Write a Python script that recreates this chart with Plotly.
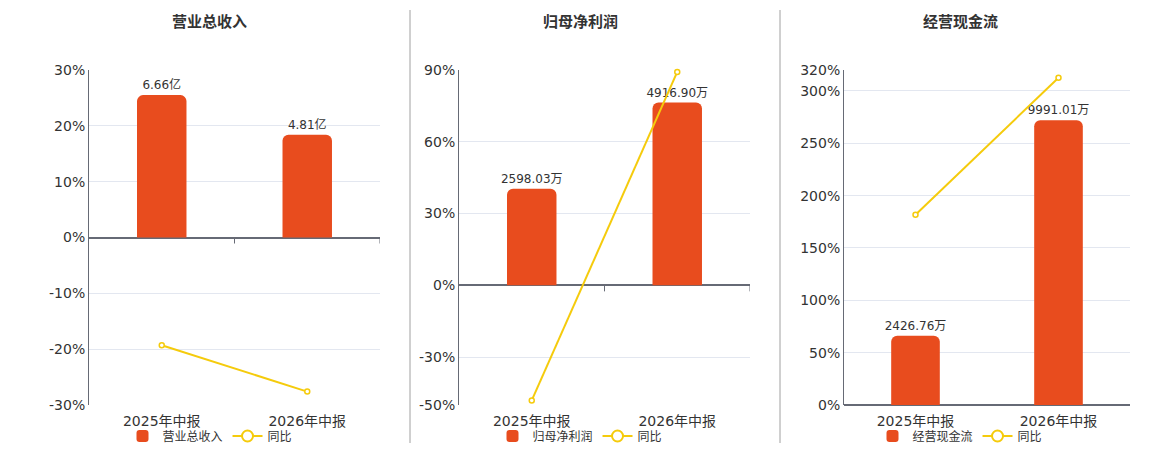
import plotly.graph_objects as go

W, H = 1160, 450
OFF = 8  # page body margin

periods = ["2025年中报", "2026年中报"]

titles = ["营业总收入", "归母净利润", "经营现金流"]
bar_values = [[6.66, 4.81], [2598.03, 4916.90], [2426.76, 9991.01]]
bar_labels = [["6.66亿", "4.81亿"], ["2598.03万", "4916.90万"], ["2426.76万", "9991.01万"]]
yoy = [[-19.3, -27.6], [-48.1, 89.2], [181.8, 312.6]]

pct_ranges = [[-30, 30], [-50, 90], [0, 320]]
pct_ticks = [[-30, -20, -10, 0, 10, 20, 30],
             [-50, -30, 0, 30, 60, 90],
             [0, 50, 100, 150, 200, 250, 300, 320]]
bar_top = [7.835, 5792, 11754]  # hidden bar axis max, zero aligned with 0%

# pixel layout of the three plot areas (screen coords)
x_px = [(89, 380), (459, 750), (844, 1130)]
y_px = (70, 405)
centers = [210, 580, 960]

BAR = "#E84C1E"
LINE = "#F5CB0C"
TXT = "#333333"
FONT = "DejaVu Sans, Noto Sans CJK SC"


def px(v):
    return (v - OFF) / W


def py(v):
    return 1 - (v - OFF) / H


fig = go.Figure()
shapes = []
annotations = []

for i in range(3):
    n = i + 1
    xa = "x" if n == 1 else f"x{n}"
    ya = "y" if n == 1 else f"y{n}"
    yb = f"y{n + 3}"
    lg = "legend" if n == 1 else f"legend{n}"

    lo, hi = pct_ranges[i]
    top = bar_top[i]
    blo = lo / hi * top

    fig.add_trace(go.Bar(
        x=periods, y=bar_values[i], text=bar_labels[i],
        textposition="outside", cliponaxis=False, constraintext="none",
        textfont=dict(size=12, color=TXT),
        marker=dict(color=BAR, line=dict(width=0)),
        width=0.34, name=titles[i], xaxis=xa, yaxis=ya, legend=lg,
        hoverinfo="skip",
    ))
    fig.add_trace(go.Scatter(
        x=periods, y=yoy[i], mode="lines+markers",
        line=dict(color=LINE, width=2),
        marker=dict(size=5, color="white", line=dict(color=LINE, width=1.5)),
        name="同比", xaxis=xa, yaxis=yb, showlegend=False, cliponaxis=False,
    ))
    # legend-only entry with bigger marker
    fig.add_trace(go.Scatter(
        x=[None], y=[None], mode="lines+markers",
        line=dict(color=LINE, width=2),
        marker=dict(size=11, color="white", line=dict(color=LINE, width=2)),
        name="同比", xaxis=xa, yaxis=yb, legend=lg,
    ))

    x0, x1 = x_px[i]
    dom_x = [px(x0), px(x1)]
    dom_y = [py(y_px[1]), py(y_px[0])]

    fig.update_layout({
        f"xaxis{'' if n == 1 else n}": dict(
            domain=dom_x, anchor=ya, type="category", range=[-0.5, 1.5],
            showgrid=False, showline=False, ticks="",
            ticklabelstandoff=6,
            tickfont=dict(size=14, color=TXT, family=FONT),
        ),
        f"yaxis{'' if n == 1 else n}": dict(
            domain=dom_y, anchor=xa, range=[blo, top], visible=False,
        ),
        f"yaxis{n + 3}": dict(
            domain=dom_y, anchor=xa, overlaying=ya, side="left",
            range=[lo, hi], tickvals=pct_ticks[i],
            ticktext=[f"{v}%" for v in pct_ticks[i]],
            tickfont=dict(size=14, color=TXT, family=FONT),
            showgrid=True, gridcolor="#E3E7F0", gridwidth=1,
            zeroline=True, zerolinecolor="#666A75", zerolinewidth=2,
            showline=True, linecolor="#666A75", linewidth=1,
            ticks="", ticklen=0,
        ),
        lg: dict(
            orientation="h", x=px(centers[i]), xanchor="center",
            y=py(436), yanchor="middle",
            font=dict(size=12, color=TXT, family=FONT),
            bgcolor="rgba(0,0,0,0)", itemwidth=30, tracegroupgap=0,
        ),
    })

    # category boundary ticks on the zero line
    for bx in [0.5, 1.5]:
        shapes.append(dict(
            type="line", xref=xa, yref=yb, ysizemode="pixel", yanchor=0,
            x0=bx, x1=bx, y0=0, y1=-6,
            line=dict(color="#666A75", width=1),
        ))

    annotations.append(dict(
        text=f"<b>{titles[i]}</b>", x=px(centers[i]), y=py(22),
        xref="paper", yref="paper", showarrow=False,
        xanchor="center", yanchor="middle",
        font=dict(size=15, color=TXT, family=FONT),
    ))

for dx in [410, 780]:
    shapes.append(dict(
        type="line", xref="paper", yref="paper",
        x0=px(dx), x1=px(dx), y0=py(10), y1=py(443),
        line=dict(color="#A0A0A0", width=1),
    ))

fig.update_layout(
    width=W, height=H,
    margin=dict(l=0, r=0, t=0, b=0, autoexpand=False),
    paper_bgcolor="white", plot_bgcolor="white",
    font=dict(family=FONT, color=TXT),
    barcornerradius=6,
    shapes=shapes, annotations=annotations,
    hovermode="closest",
)

fig.write_html("out.html")
